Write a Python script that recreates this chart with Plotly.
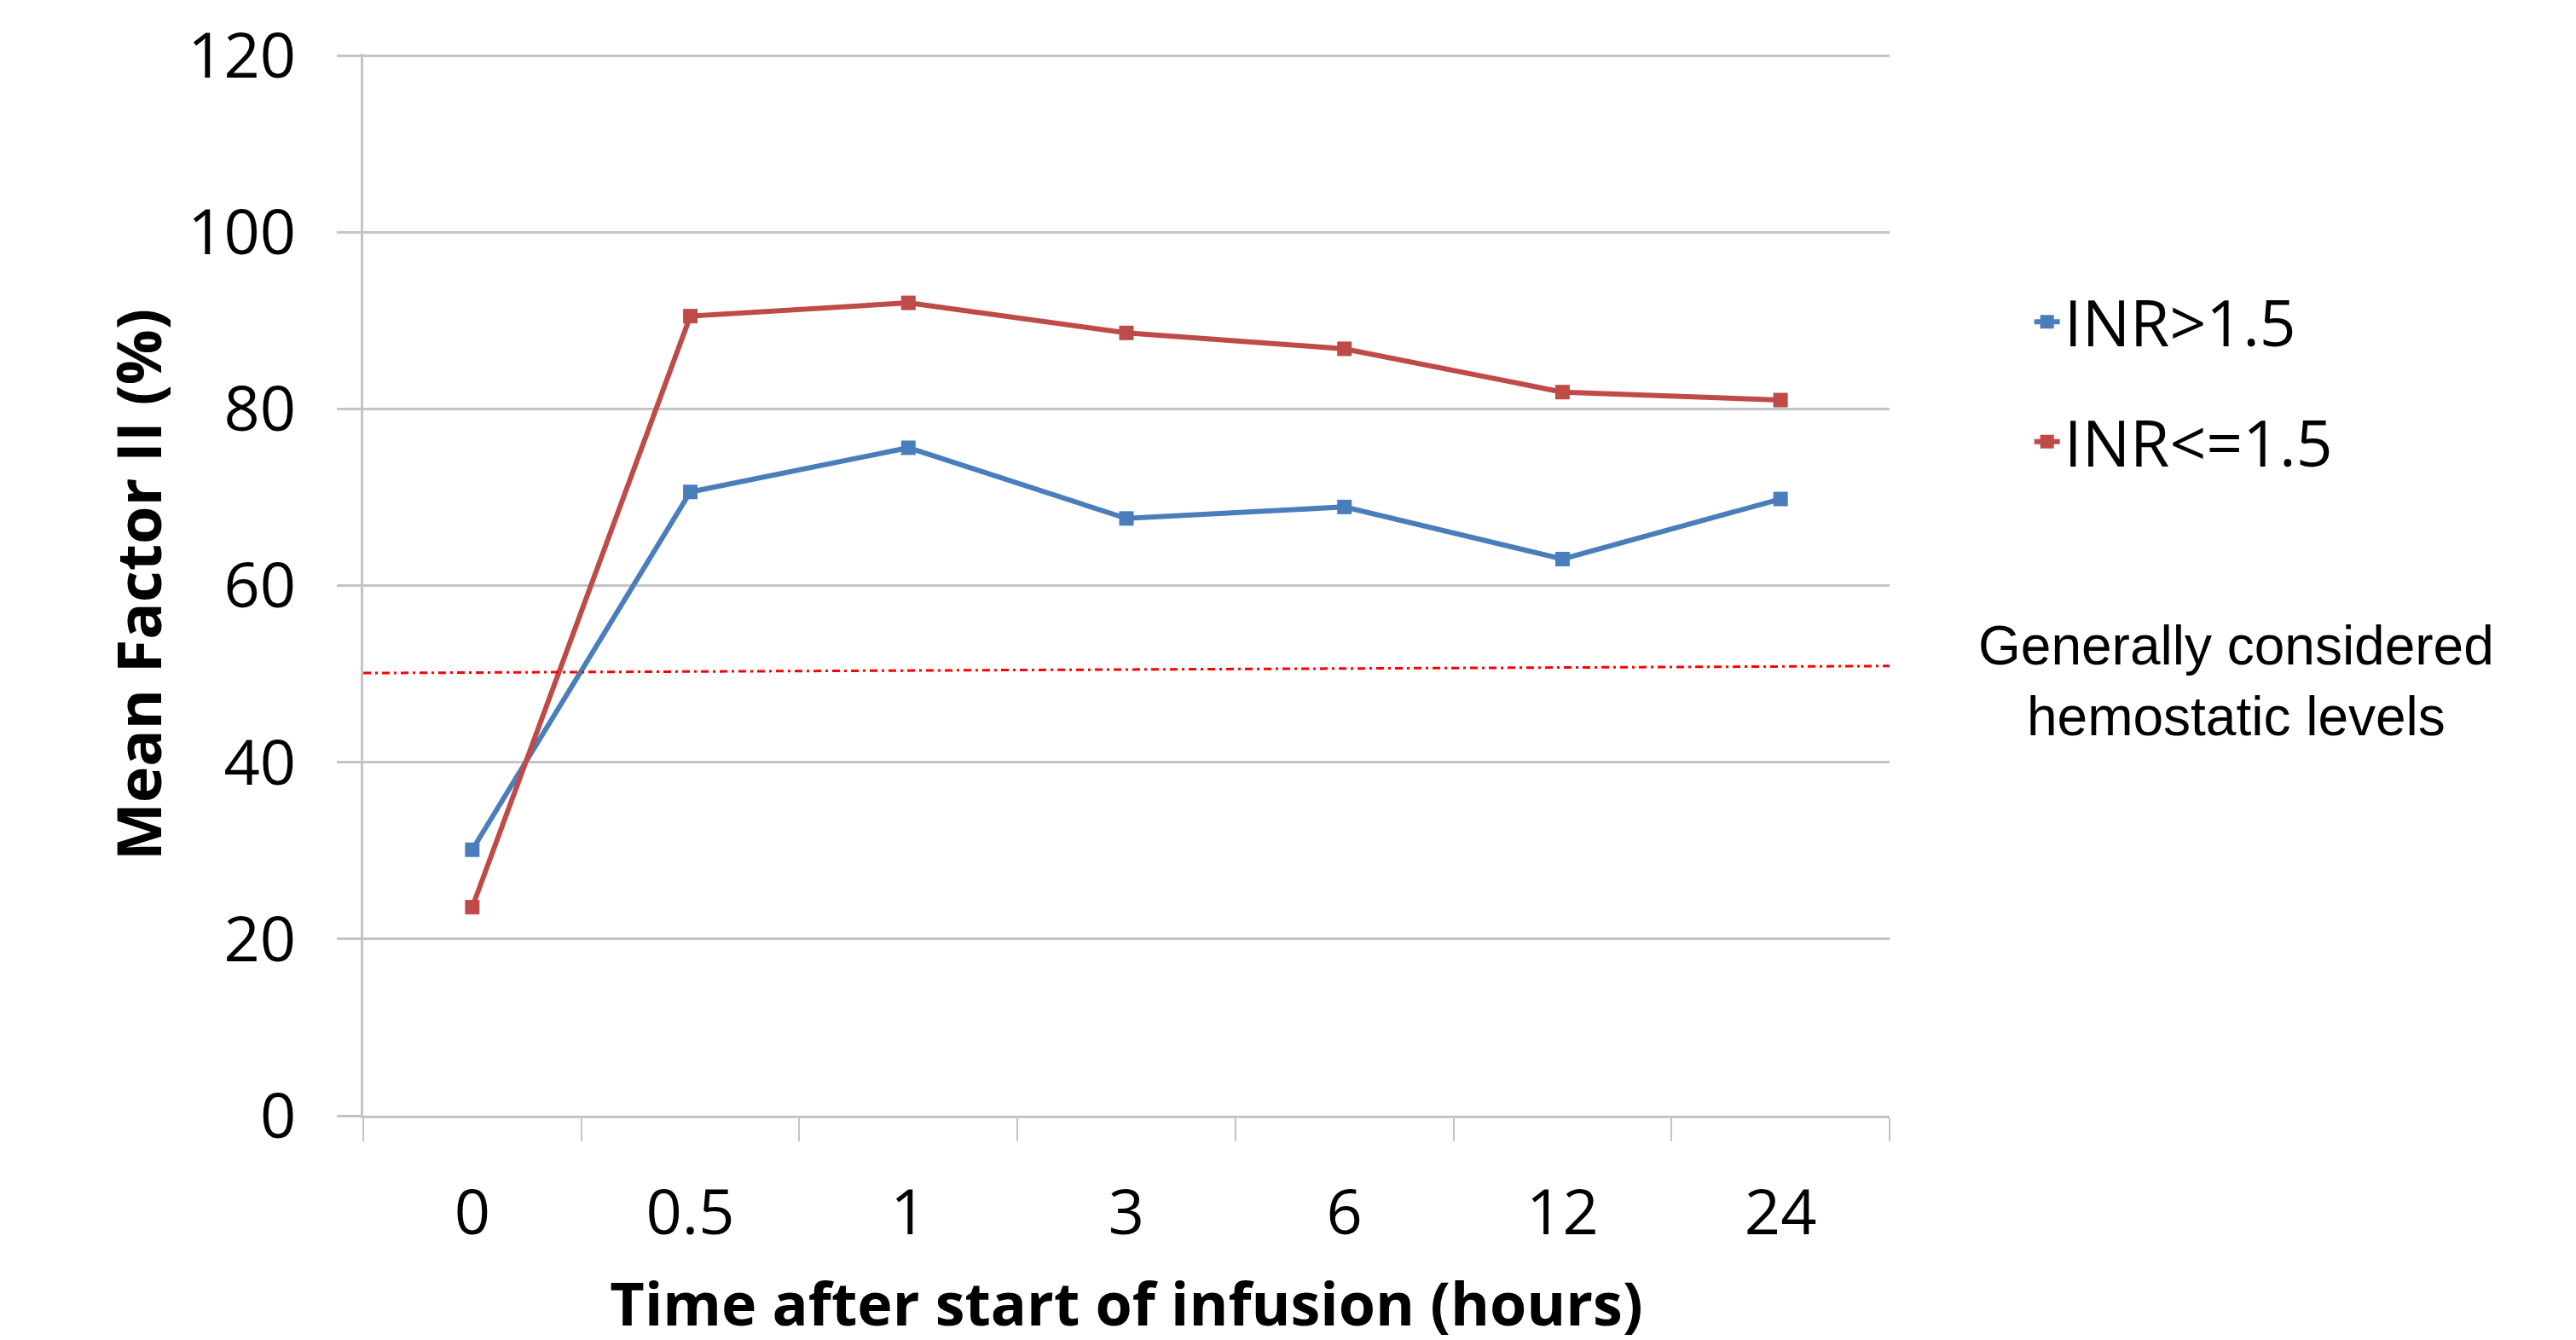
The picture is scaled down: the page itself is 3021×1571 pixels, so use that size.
import plotly.graph_objects as go

categories = ["0", "0.5", "1", "3", "6", "12", "24"]
inr_high = [30.1, 70.6, 75.6, 67.6, 68.9, 63.0, 69.8]
inr_low = [23.6, 90.5, 92.0, 88.6, 86.8, 81.9, 81.0]
y_ticks = [0, 20, 40, 60, 80, 100, 120]
hemostatic_start = 50.1
hemostatic_end = 50.9

BLUE = "#4A7EBB"
RED = "#BE4B48"
GRID = "#C4C4C4"

fig = go.Figure()
fig.add_trace(go.Scatter(
    x=categories, y=inr_high, mode="lines+markers", name="INR>1.5",
    legendgroup="a",
    line=dict(color=BLUE, width=6),
    marker=dict(symbol="square", size=17, color=BLUE),
))
fig.add_trace(go.Scatter(
    x=categories, y=inr_low, mode="lines+markers", name="INR<=1.5",
    legendgroup="b",
    line=dict(color=RED, width=6),
    marker=dict(symbol="square", size=17, color=RED),
))

fig.add_shape(
    type="line", xref="x domain", yref="y",
    x0=0, x1=1, y0=hemostatic_start, y1=hemostatic_end,
    line=dict(color="#FF0000", width=3, dash="9px,5px,3px,5px"),
    layer="above",
)

fig.add_annotation(
    text="Generally considered<br>hemostatic levels",
    xref="paper", yref="paper", x=1.227, y=0.4096,
    xanchor="center", yanchor="middle", showarrow=False,
    font=dict(family="Liberation Sans, Arial", size=64, color="black"),
    align="center",
)

fig.update_layout(
    width=3021, height=1571,
    margin=dict(l=418, r=813, t=55, b=271),
    paper_bgcolor="white", plot_bgcolor="white",
    font=dict(family="Open Sans", color="black"),
    showlegend=True,
    legend=dict(
        x=1.092, y=0.792, xanchor="left", yanchor="top",
        font=dict(family="Open Sans", size=75, color="black"),
        tracegroupgap=40,
        bgcolor="rgba(0,0,0,0)",
    ),
    xaxis=dict(
        type="category",
        categoryorder="array", categoryarray=categories,
        range=[-0.5, 6.5],
        automargin=False,
        showgrid=False, showline=True, linecolor=GRID, linewidth=3,
        ticks="outside", ticklen=27, tickwidth=2, tickcolor=GRID,
        tickson="boundaries",
        tickfont=dict(family="Open Sans", size=74, color="black"),
        ticklabelstandoff=47,
        title=dict(text="<b>Time after start of infusion (hours)</b>",
                   font=dict(family="Open Sans", size=70, color="black"),
                   standoff=38),
        zeroline=False,
    ),
    yaxis=dict(
        range=[0, 120.2], tickvals=y_ticks,
        automargin=False,
        showgrid=True, gridcolor=GRID, gridwidth=3,
        showline=True, linecolor=GRID, linewidth=3,
        ticks="outside", ticklen=28, tickwidth=3, tickcolor=GRID,
        tickfont=dict(family="Open Sans", size=74, color="black"),
        ticklabelstandoff=33,
        ticklabeloverflow="allow",
        title=dict(text="<b>Mean Factor II (%)</b>",
                   font=dict(family="Open Sans", size=72, color="black"),
                   standoff=8),
        zeroline=False,
    ),
)

fig.write_html("out.html")
